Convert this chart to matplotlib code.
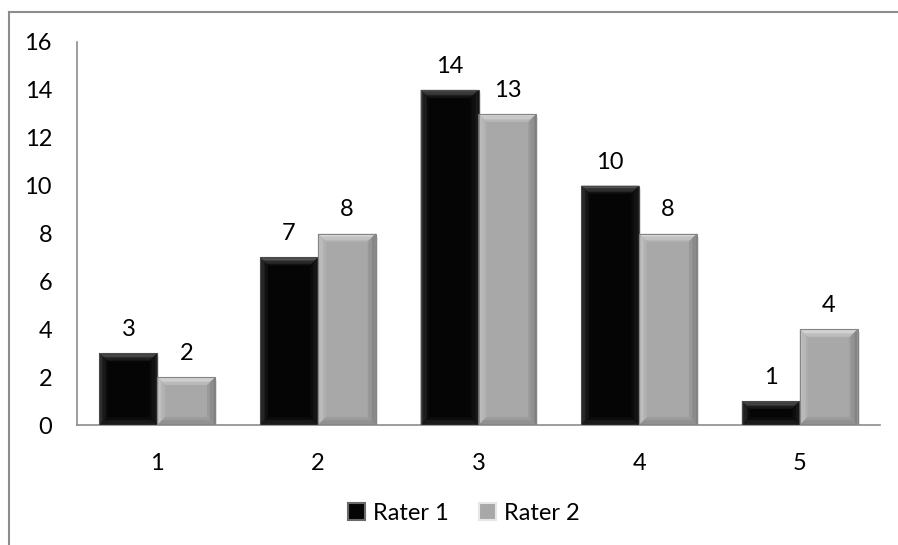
import numpy as np
import matplotlib.pyplot as plt
from matplotlib.patches import Polygon, Rectangle
from matplotlib.lines import Line2D
from matplotlib.colors import to_rgb

categories = ['1', '2', '3', '4', '5']
rater1 = [3, 7, 14, 10, 1]
rater2 = [2, 8, 13, 8, 4]
series_names = ['Rater 1', 'Rater 2']

plt.rcParams['font.family'] = ['Lato', 'DejaVu Sans']

W, H = 898, 545
fig = plt.figure(figsize=(W / 100, H / 100), dpi=100)
ax = fig.add_axes([77 / W, (H - 425) / H, 803 / W, 383 / H])

x = np.arange(1, len(categories) + 1)
bw = 0.36

# bevel colours: (outer, inner) pairs for each side of the bar
styles = [
    dict(body='#050505', top=('#6a6a6a', '#0c0c0c'), left=('#3a3a3a', '#0a0a0a'),
         right=('#202020', '#080808'), bottom=('#2a2a2a', '#080808'), edge='#4a4a4a'),
    dict(body='#a8a8a8', top=('#e6e6e6', '#b4b4b4'), left=('#cccccc', '#adadad'),
         right=('#7c7c7c', '#9c9c9c'), bottom=('#858585', '#9e9e9e'), edge='#858585'),
]

px_x = 803 / 5.0      # pixels per x unit
px_y = 383 / 16.0     # pixels per y unit


def mix(c0, c1, t):
    a, b = np.array(to_rgb(c0)), np.array(to_rgb(c1))
    return tuple(a + (b - a) * t)


def side_bands(ax, outer, inner, cols, n=6):
    # outer/inner are two point pairs; fill n slices blending between colours
    (o0, o1), (i0, i1) = outer, inner
    for k in range(n):
        t0, t1 = k / n, (k + 1) / n
        p = lambda a, b, t: (a[0] + (b[0] - a[0]) * t, a[1] + (b[1] - a[1]) * t)
        poly = [p(o0, i0, t0), p(o1, i1, t0), p(o1, i1, t1), p(o0, i0, t1)]
        ax.add_patch(Polygon(poly, closed=True, facecolor=mix(cols[0], cols[1], (k + 0.5) / n),
                             lw=0, zorder=4))


def bevel_bar(ax, x0, h, w, st, bev=8):
    bx = bev / px_x
    by = min(bev / px_y, h / 2.5)
    x1 = x0 + w
    # faint drop shadow
    ax.add_patch(Rectangle((x0 + 2 / px_x, -3 / px_y), w, h,
                           facecolor='#000000', alpha=0.10, lw=0, zorder=2))
    ax.add_patch(Rectangle((x0, 0), w, h, facecolor=st['body'],
                           edgecolor='none', zorder=3))
    side_bands(ax, ((x0, h), (x1, h)), ((x0 + bx, h - by), (x1 - bx, h - by)), st['top'])
    side_bands(ax, ((x0, 0), (x0, h)), ((x0 + bx, by), (x0 + bx, h - by)), st['left'])
    side_bands(ax, ((x1, 0), (x1, h)), ((x1 - bx, by), (x1 - bx, h - by)), st['right'])
    side_bands(ax, ((x0, 0), (x1, 0)), ((x0 + bx, by), (x1 - bx, by)), st['bottom'])
    ax.add_patch(Rectangle((x0, 0), w, h, facecolor='none',
                           edgecolor=st['edge'], lw=0.8, zorder=5))


for i, (vals, st) in enumerate(zip([rater1, rater2], styles)):
    for xi, v in zip(x, vals):
        x0 = xi - bw + i * bw
        bevel_bar(ax, x0, v, bw, st)
        ax.text(x0 + bw / 2, v + 17 / px_y, str(v), ha='center', va='baseline',
                fontsize=17, color='black', zorder=6)

ax.set_xlim(0.5, 5.5)
ax.set_ylim(0, 16)
ax.set_xticks(x)
ax.set_xticklabels(categories)
ax.set_yticks(range(0, 17, 2))
ax.tick_params(length=0, labelsize=17, colors='black')
ax.tick_params(axis='y', pad=18)
ax.tick_params(axis='x', pad=20)
for side in ['top', 'right']:
    ax.spines[side].set_visible(False)
for side in ['left', 'bottom']:
    ax.spines[side].set_color('#8c8c8c')
    ax.spines[side].set_linewidth(1.2)

# legend swatches
handles = [Rectangle((0, 0), 1, 1, facecolor=st['body'], edgecolor=st['top'][0], lw=1.5)
           for st in styles]
fig.legend(handles, series_names, loc='center', bbox_to_anchor=(464 / W, (H - 513) / H),
           ncol=2, frameon=False, fontsize=17, handlelength=0.7, handleheight=0.7,
           handletextpad=0.35, columnspacing=1.3)

# outer chart frame
fig.add_artist(Line2D([8.5 / W, 8.5 / W], [0, (H - 12) / H], color='#8c8c8c', lw=1.5))
fig.add_artist(Line2D([8.5 / W, 1], [(H - 12) / H, (H - 12) / H], color='#8c8c8c', lw=1.5))

fig.savefig('out.png', dpi=100)
